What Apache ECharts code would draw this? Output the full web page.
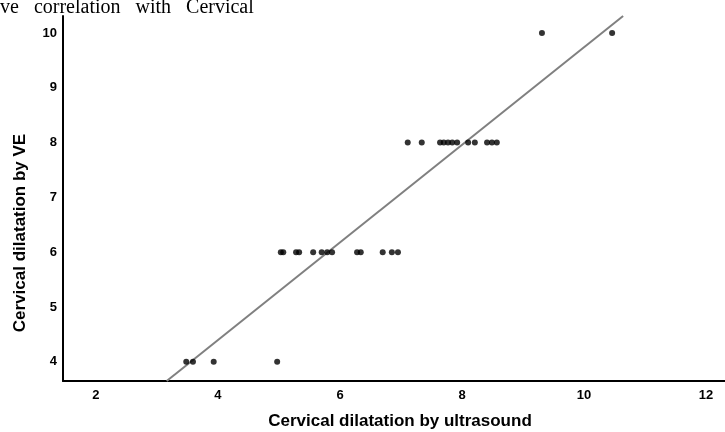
<!DOCTYPE html>
<html>
<head>
<meta charset="utf-8">
<script src="https://cdn.jsdelivr.net/npm/echarts@6/dist/echarts.min.js"></script>
<style>
  html, body { margin: 0; padding: 0; background: #fff; }
  #main { width: 725px; height: 432px; }
</style>
</head>
<body>
<div id="main"></div>
<script>
// ultrasound readings, grouped by the VE value they were paired with
var us4 = [3.48, 3.59, 3.93, 4.97];
var us6 = [5.03, 5.07, 5.28, 5.33, 5.56, 5.70, 5.79, 5.87, 6.28, 6.34, 6.70, 6.85, 6.95];
var us8 = [7.11, 7.34, 7.64, 7.70, 7.77, 7.84, 7.92, 8.10, 8.21, 8.41, 8.49, 8.57];
var us10 = [9.31, 10.46];
var veLevels = [4, 6, 8, 10];

// fit line ends
var fitLine = [[3.16, 3.65], [10.64, 10.31]];

var xTicks = [2, 4, 6, 8, 10, 12];
var yTicks = [4, 5, 6, 7, 8, 9, 10];

var groups = [us4, us6, us8, us10];
var points = [];
for (var g = 0; g < groups.length; g++) {
  for (var i = 0; i < groups[g].length; i++) {
    points.push([groups[g][i], veLevels[g]]);
  }
}

var myChart = echarts.init(document.getElementById('main'));
var labelFont = {
  color: '#000',
  fontFamily: 'Liberation Sans, Arial, sans-serif',
  fontWeight: 'bold',
  fontSize: 13
};

option = {
  animation: false,
  backgroundColor: '#fff',
  grid: { left: 63, right: 0, top: 16, bottom: 51 },
  xAxis: {
    type: 'value',
    min: 1.46,
    max: 12.31,
    splitLine: { show: false },
    axisTick: { show: false },
    axisLine: { lineStyle: { color: '#000', width: 2 } },
    axisLabel: Object.assign({ customValues: xTicks, margin: 8 }, labelFont)
  },
  yAxis: {
    type: 'value',
    min: 3.65,
    max: 10.31,
    splitLine: { show: false },
    axisTick: { show: false },
    axisLine: { show: true, lineStyle: { color: '#000', width: 2 } },
    axisLabel: Object.assign({ customValues: yTicks, margin: 6 }, labelFont)
  },
  graphic: [
    {
      type: 'text', x: 0, y: 18,
      style: {
        text: 've   correlation   with   Cervical',
        fontFamily: 'Liberation Serif, Times New Roman, serif',
        fontSize: 20, fill: '#000',
        verticalAlign: 'bottom'
      }
    },
    {
      type: 'text', x: 20, y: 233, rotation: Math.PI / 2,
      style: {
        text: 'Cervical dilatation by VE',
        fontFamily: 'Liberation Sans, Arial, sans-serif',
        fontWeight: 'bold', fontSize: 17, fill: '#000',
        align: 'center', verticalAlign: 'middle'
      }
    },
    {
      type: 'text', x: 400, y: 421,
      style: {
        text: 'Cervical dilatation by ultrasound',
        fontFamily: 'Liberation Sans, Arial, sans-serif',
        fontWeight: 'bold', fontSize: 17, fill: '#000',
        align: 'center', verticalAlign: 'middle'
      }
    }
  ],
  series: [
    {
      type: 'line',
      data: fitLine,
      symbol: 'none',
      lineStyle: { color: '#808080', width: 2 },
      z: 1
    },
    {
      type: 'scatter',
      data: points,
      symbolSize: 6,
      itemStyle: { color: '#000' },
      z: 2
    }
  ]
};

myChart.setOption(option);
</script>
</body>
</html>
